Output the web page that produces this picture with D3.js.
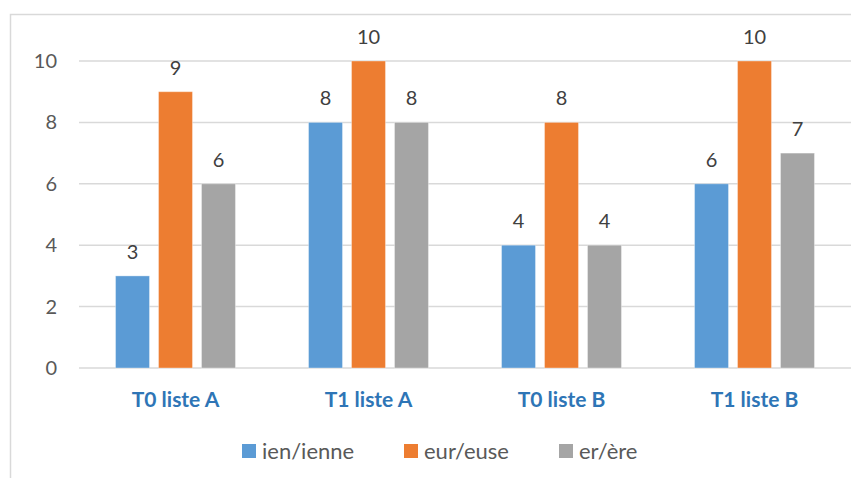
<!DOCTYPE html>
<html>
<head>
<meta charset="utf-8">
<script src="https://cdn.jsdelivr.net/npm/d3@7"></script>
<style>
  body { margin: 0; background: #fff; }
  svg { display: block; font-family: Lato, "Open Sans", sans-serif; }
</style>
</head>
<body>
<div id="chart"></div>
<script>
const categories = ['T0 liste A', 'T1 liste A', 'T0 liste B', 'T1 liste B'];
const seriesNames = ['ien/ienne', 'eur/euse', 'er/ère'];
const seriesColors = ['#5B9BD5', '#ED7D31', '#A5A5A5'];
const ienValues = [3, 8, 4, 6];
const eurValues = [9, 10, 8, 10];
const erValues = [6, 8, 4, 7];
const yTicks = [0, 2, 4, 6, 8, 10];

const width = 851;
const height = 478;
const margin = { top: 61, right: 0, bottom: 110, left: 79 };

const seriesValues = [ienValues, eurValues, erValues];
const rows = categories.map((cat, i) => ({
  cat,
  values: seriesNames.map((name, s) => ({ name, s, value: seriesValues[s][i] }))
}));

const svg = d3.select('#chart')
  .append('svg')
  .attr('width', width)
  .attr('height', height);

// chart border
svg.append('rect')
  .attr('x', 10.5)
  .attr('y', 14.5)
  .attr('width', width + 20)
  .attr('height', height + 20)
  .attr('fill', 'none')
  .attr('stroke', '#D9D9D9')
  .attr('stroke-width', 1.5);

const x0 = d3.scaleBand()
  .domain(categories)
  .range([margin.left, width - margin.right]);

const x1 = d3.scaleBand()
  .domain(seriesNames)
  .range([0, x0.bandwidth()])
  .paddingInner(0.21)
  .paddingOuter(0.85);

const y = d3.scaleLinear()
  .domain([0, 10])
  .range([368, margin.top]);

// gridlines
svg.append('g')
  .selectAll('line')
  .data(yTicks)
  .join('line')
  .attr('x1', margin.left)
  .attr('x2', width - margin.right)
  .attr('y1', (d) => y(d))
  .attr('y2', (d) => y(d))
  .attr('stroke', '#D9D9D9')
  .attr('stroke-width', 1.5);

// y axis labels
const yAxis = d3.axisLeft(y).tickValues(yTicks).tickSize(0).tickPadding(0);
svg.append('g')
  .attr('transform', 'translate(57,0)')
  .call(yAxis)
  .call((g) => g.select('.domain').remove())
  .selectAll('text')
  .attr('font-family', 'Lato, "Open Sans", sans-serif')
  .attr('font-size', 20)
  .attr('fill', '#595959');

const groups = svg.append('g')
  .selectAll('g')
  .data(rows)
  .join('g')
  .attr('transform', (d) => `translate(${x0(d.cat)},0)`);

groups.selectAll('rect')
  .data((d) => d.values)
  .join('rect')
  .attr('x', (d) => x1(d.name))
  .attr('y', (d) => y(d.value))
  .attr('width', x1.bandwidth())
  .attr('height', (d) => y(0) - y(d.value))
  .attr('fill', (d) => seriesColors[d.s])
  .attr('stroke', '#fff')
  .attr('stroke-opacity', 0.35)
  .attr('stroke-width', 1);

groups.selectAll('text')
  .data((d) => d.values)
  .join('text')
  .attr('x', (d) => x1(d.name) + x1.bandwidth() / 2)
  .attr('y', (d) => y(d.value) - 17)
  .attr('text-anchor', 'middle')
  .attr('font-size', 20)
  .attr('fill', '#404040')
  .text((d) => d.value);

// x axis labels
const xAxis = d3.axisBottom(x0).tickSize(0).tickPadding(0);
svg.append('g')
  .attr('transform', 'translate(0,392)')
  .call(xAxis)
  .call((g) => g.select('.domain').remove())
  .selectAll('text')
  .attr('font-family', 'Lato, "Open Sans", sans-serif')
  .attr('font-size', 21)
  .attr('font-weight', 'bold')
  .attr('fill', '#2E75B6');

// legend
const legendX = [242, 404, 559];
const legend = svg.append('g')
  .selectAll('g')
  .data(seriesNames)
  .join('g')
  .attr('transform', (d, i) => `translate(${legendX[i]},444)`);

legend.append('rect')
  .attr('width', 14)
  .attr('height', 14)
  .attr('fill', (d, i) => seriesColors[i]);

legend.append('text')
  .attr('x', 20)
  .attr('y', 7)
  .attr('dy', '0.35em')
  .attr('font-size', 22)
  .attr('fill', '#595959')
  .text((d) => d);
</script>
</body>
</html>
